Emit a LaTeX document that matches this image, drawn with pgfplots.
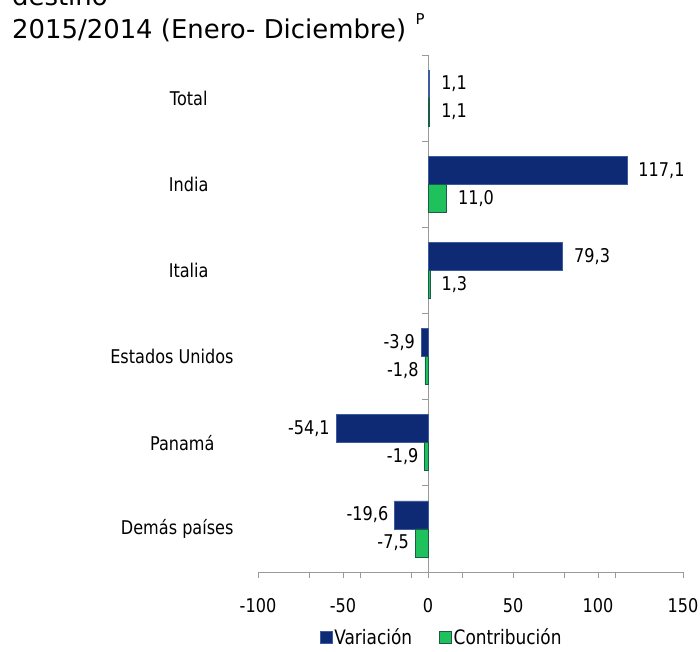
\documentclass[border=0pt]{standalone}
\usepackage{pgfplots}
\pgfplotsset{compat=1.18}
\usepackage{fontspec}
\setmainfont{DejaVu Sans}[FakeStretch=0.85]
\newfontfamily\titlefont{DejaVu Sans}
\definecolor{varblue}{HTML}{0E2A74}
\definecolor{varedge}{HTML}{3D5C9E}
\definecolor{congreen}{HTML}{1FC15C}
\definecolor{conedge}{HTML}{1A5C4A}
\definecolor{axgray}{HTML}{9A9A9A}
\newcommand{\lblfont}{\fontsize{19}{22}\selectfont}
\begin{document}
\begin{tikzpicture}
\begin{axis}[
  at={(258bp,-572bp)}, anchor=south west,
  scale only axis, width=425bp, height=517bp,
  xmin=-100, xmax=150, ymin=-0.5, ymax=5.5,
  axis x line=bottom, axis y line=middle,
  axis line style={-, draw=axgray, line width=0.8pt},
  /pgf/number format/assume math mode=true,
  xtick={-100,-50,0,50,100,150},
  extra x ticks={-70,-40,-10,20,80,110}, extra x tick labels={},
  x tick style={draw=axgray, line width=0.8pt},
  tick align=outside, major tick length=6bp,
  ytick={0,1,2,3,4,5},
  yticklabels={Demás países,{Panamá\hspace*{19bp}},Estados Unidos,{Italia\hspace*{25bp}},{India\hspace*{25bp}},{Total\hspace*{26bp}}},
  y tick style={draw=none},
  extra y ticks={-0.5,0.5,1.5,2.5,3.5,4.5,5.5}, extra y tick labels={},
  extra y tick style={y tick style={draw=axgray, line width=0.8pt}},
  yticklabel style={anchor=east, xshift=-185bp},
  every tick label/.append style={font=\lblfont, text=black},
  xticklabel style={yshift=-17bp},
  xbar, bar width=28bp,
  visualization depends on={rawx \as \rawx},
  nodes near coords={\pgfmathprintnumber[fixed,fixed zerofill,precision=1,use comma,assume math mode=true]{\pgfplotspointmeta}},
  nodes near coords align={horizontal},
  every node near coord/.append style={font=\lblfont, text=black, inner xsep=6bp, xshift={(\rawx>0)*5}},
  point meta=x,
  legend style={draw=none, fill=none, at={(0.432,-0.126)}, anchor=center, font=\fontsize{20}{23}\selectfont,
    legend columns=2, /tikz/every even column/.append style={column sep=25bp}},
  legend image code/.code={\draw[#1, line width=0.6pt] (0bp,-6bp) rectangle (12bp,6bp);},
]
\addplot[fill=varblue, draw=varedge, line width=0.8pt, bar shift=14bp] coordinates {
  (-19.6,0) (-54.1,1) (-3.9,2) (79.3,3) (117.1,4) (1.1,5)
};
\addlegendentry{Variación}
\addplot[fill=congreen, draw=conedge, line width=0.8pt, bar shift=-14bp] coordinates {
  (-7.5,0) (-1.9,1) (-1.8,2) (1.3,3) (11.0,4) (1.1,5)
};
\addlegendentry{Contribución}
\end{axis}
\node[anchor=base west, inner sep=0pt, font=\titlefont\fontsize{26}{30}\selectfont] at (12bp,-5bp) {destino};
\node[anchor=base west, inner sep=0pt, font=\titlefont\fontsize{26}{30}\selectfont] (T) at (12bp,-38bp) {2015/2014 (Enero- Diciembre)};
\node[anchor=base west, inner sep=0pt, font=\titlefont\fontsize{15}{17}\selectfont] at ([xshift=9bp,yshift=14bp]T.base east) {P};
\pgfresetboundingbox
\path[use as bounding box] (0bp,0bp) rectangle (700bp,-652bp);
\end{tikzpicture}
\end{document}
